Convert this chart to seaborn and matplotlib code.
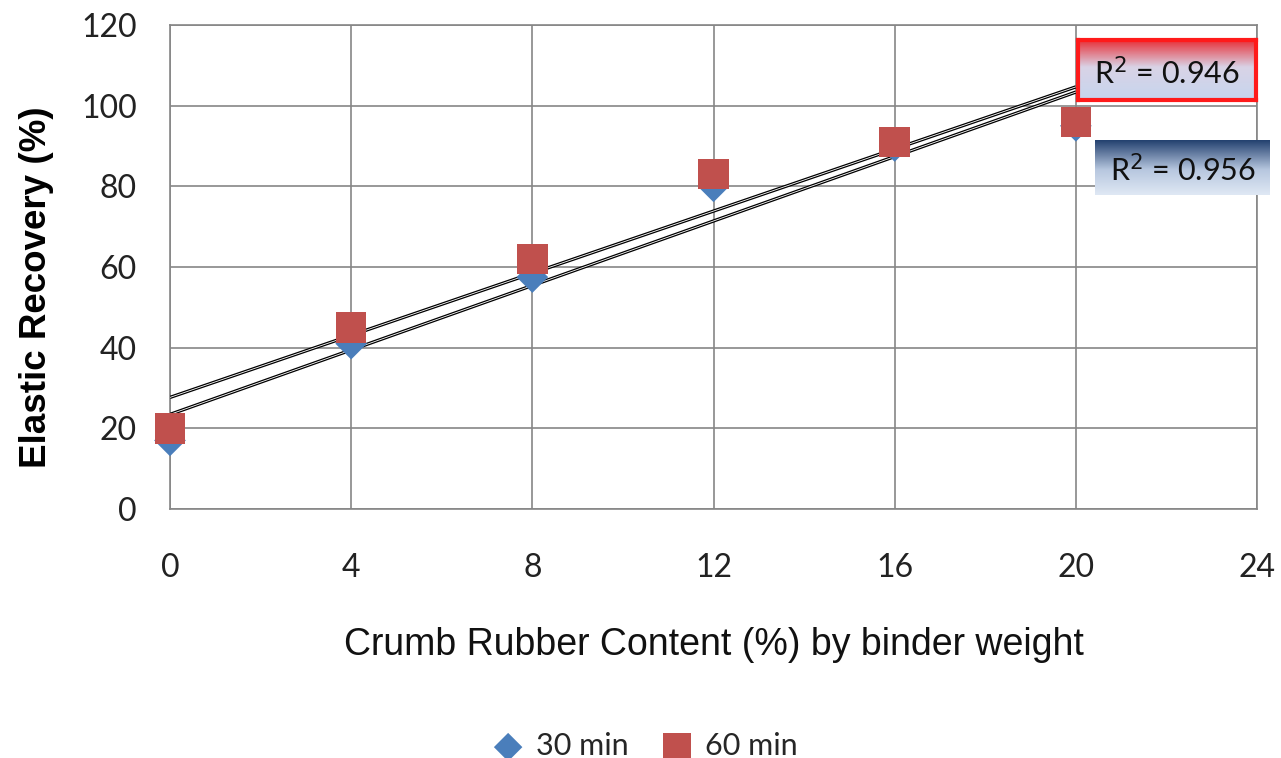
import numpy as np
import pandas as pd
import matplotlib
matplotlib.use("Agg")
import matplotlib.pyplot as plt
import seaborn as sns
from matplotlib.colors import LinearSegmentedColormap

# -----------------------------
# DATA
# -----------------------------
crumb_rubber = [0, 4, 8, 12, 16, 20]
er_30min = [17, 41, 57.5, 80, 90, 95]
er_60min = [20, 45, 62, 83, 91, 96]
r2_30min = "R$^2$ = 0.956"
r2_60min = "R$^2$ = 0.946"
x_ticks = [0, 4, 8, 12, 16, 20, 24]
y_ticks = [0, 20, 40, 60, 80, 100, 120]

df = pd.DataFrame({
    "x": crumb_rubber * 2,
    "y": er_30min + er_60min,
    "series": ["30 min"] * 6 + ["60 min"] * 6,
})

sns.set_style("white")
plt.rcParams["font.family"] = ["Lato", "DejaVu Sans"]

blue = "#4a7ebb"
red = "#c0504d"
grid_c = "#868686"

fig = plt.figure(figsize=(12.81, 7.58), dpi=100)
ax = fig.add_axes([0.1327, 0.3285, 0.8486, 0.6385])

# -----------------------------
# TRENDLINES (linear fit, double line look)
# -----------------------------
xs = np.array([0, 20])
for vals in (er_30min, er_60min):
    k, b = np.polyfit(crumb_rubber, vals, 1)
    ax.plot(xs, k * xs + b, color="black", lw=2.4, zorder=3, solid_capstyle="butt")
    ax.plot(xs, k * xs + b, color="white", lw=0.6, zorder=3.1, solid_capstyle="butt")

# -----------------------------
# POINTS
# -----------------------------
sns.scatterplot(data=df[df.series == "30 min"], x="x", y="y", marker="D", s=260,
                color=blue, edgecolor="none", ax=ax, zorder=4, label="30 min",
                clip_on=False)
sns.scatterplot(data=df[df.series == "60 min"], x="x", y="y", marker="s", s=480,
                color=red, edgecolor="none", ax=ax, zorder=5, label="60 min",
                clip_on=False)

ax.set_xlim(0, 24)
ax.set_ylim(0, 120)
ax.set_xticks(x_ticks)
ax.set_yticks(y_ticks)
ax.grid(True, color=grid_c, lw=1.2)
ax.set_axisbelow(True)
for sp in ax.spines.values():
    sp.set_color(grid_c)
    sp.set_linewidth(1.2)
ax.tick_params(axis="x", length=0, pad=32, labelsize=23, colors="#222222")
ax.tick_params(axis="y", length=0, pad=24, labelsize=23, colors="#222222")

ax.set_xlabel("Crumb Rubber Content (%) by binder weight", fontsize=27,
              family="Liberation Sans", color="#111111", va="center")
ax.set_ylabel("Elastic Recovery (%)", fontsize=26.5, fontweight="bold",
              family="Liberation Sans", color="black", va="center", ha="center")
ax.xaxis.set_label_coords(0.5, -0.281)
ax.yaxis.set_label_coords(-0.123, 0.459)

leg = ax.legend(loc="center", bbox_to_anchor=(0.43, -0.49), ncol=2, frameon=False,
                fontsize=22, handletextpad=-0.1, columnspacing=0.6, markerscale=0.9,
                borderpad=0.1)

# -----------------------------
# R² LABEL BOXES
# -----------------------------
def label_box(rect, stops, text, edge=None):
    bx = fig.add_axes(rect)
    cmap = LinearSegmentedColormap.from_list("g", stops)
    grad = np.linspace(0, 1, 100).reshape(-1, 1)
    bx.imshow(grad, aspect="auto", cmap=cmap, extent=[0, 1, 0, 1], origin="upper")
    bx.set_xticks([])
    bx.set_yticks([])
    for sp in bx.spines.values():
        if edge:
            sp.set_color(edge)
            sp.set_linewidth(3)
        else:
            sp.set_visible(False)
    bx.text(0.5, 0.45, text, ha="center", va="center", fontsize=22, color="#111111",
            transform=bx.transAxes)

label_box([0.8415, 0.868, 0.139, 0.079],
          [(0, "#e8323a"), (0.45, "#d9d3e6"), (1, "#c6d5ee")], r2_60min, edge="#ff1a1a")
label_box([0.8548, 0.7427, 0.1366, 0.0726],
          [(0, "#1f3d6c"), (0.55, "#b7c7df"), (1, "#dfe8f4")], r2_30min)

fig.savefig("out.png", dpi=100)
